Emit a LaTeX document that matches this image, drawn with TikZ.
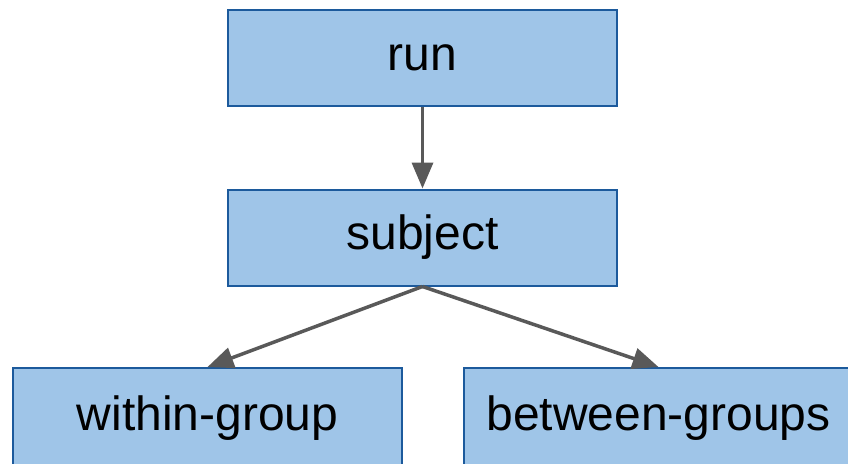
\documentclass[tikz,border=0pt]{standalone}
\usepackage{fontspec}
\setmainfont{Liberation Sans}
\usetikzlibrary{arrows.meta}
\definecolor{boxfill}{HTML}{9FC5E8}
\definecolor{boxline}{HTML}{1C5A9C}
\definecolor{arrowgray}{HTML}{595959}
\begin{document}
\begin{tikzpicture}[x=1pt,y=-1pt,
  levelbox/.style={draw=boxline,fill=boxfill,line width=2pt,
    minimum width=389pt,minimum height=96pt,inner sep=0pt,
    font=\fontsize{48}{58}\selectfont},
  lowbox/.style={levelbox,minimum height=100pt,anchor=north},
  link/.style={draw=arrowgray,line width=3.5pt,
    -{Triangle[length=26pt,width=21pt]}}]
  \clip (0,0) rectangle (848,463);
  \node[levelbox] (run) at (422.5,58) {run};
  \node[levelbox] (subject) at (422.5,237.5) {subject};
  \node[lowbox] (within) at (207.5,367) {within-group};
  \node[lowbox] (between) at (658.5,367) {between-groups};
  \draw[link] (run.south) -- (subject.north);
  \draw[link] (subject.south) -- (within.north);
  \draw[link] (subject.south) -- (between.north);
\end{tikzpicture}
\end{document}
